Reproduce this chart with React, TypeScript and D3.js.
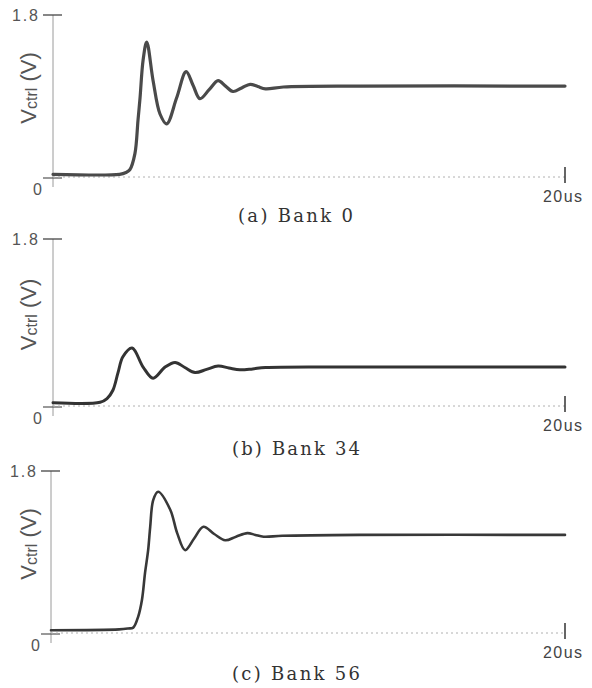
import React from "react";
import * as d3 from "d3";

// ---- data (time in µs, Vctrl in V) ----
const timeA = [0, 2.6, 2.85, 3.0, 3.2, 3.32, 3.4, 3.52, 3.66, 3.91, 4.18, 4.44, 4.83, 5.2, 5.47, 5.74, 6.1, 6.45, 6.74, 7.03, 7.37, 7.7, 8.0, 8.3, 9.0, 12, 20];
const vctrlA = [0.03, 0.03, 0.05, 0.08, 0.26, 0.63, 0.88, 1.3, 1.5, 1.07, 0.7, 0.59, 0.88, 1.17, 1.02, 0.87, 0.97, 1.07, 1.01, 0.95, 0.99, 1.03, 1.005, 0.98, 1.0, 1.01, 1.01];

const timeB = [0, 1.84, 2.11, 2.34, 2.54, 2.73, 3.09, 3.52, 3.91, 4.38, 4.77, 5.15, 5.55, 6.0, 6.45, 6.87, 7.3, 7.8, 8.3, 12, 20];
const vctrlB = [0.035, 0.04, 0.08, 0.17, 0.36, 0.53, 0.625, 0.42, 0.3, 0.42, 0.47, 0.415, 0.36, 0.395, 0.43, 0.41, 0.39, 0.4, 0.415, 0.42, 0.42];

const timeC = [0, 2.65, 3.0, 3.2, 3.39, 3.54, 3.66, 3.78, 3.86, 3.98, 4.17, 4.64, 4.91, 5.22, 5.57, 5.93, 6.35, 6.78, 7.2, 7.64, 7.95, 8.27, 9.0, 12, 20];
const vctrlC = [0.03, 0.04, 0.05, 0.06, 0.18, 0.37, 0.67, 0.92, 1.18, 1.48, 1.57, 1.37, 1.11, 0.92, 1.05, 1.18, 1.1, 1.03, 1.07, 1.11, 1.09, 1.07, 1.08, 1.09, 1.09];

const captions = ["(a)  Bank  0", "(b)  Bank  34", "(c)  Bank  56"];
const yTickTop = "1.8";
const yTickBottom = "0";
const xTickEnd = "20us";
const yDomain = [0, 1.8];
const xDomain = [0, 20];

type PanelProps = {
  time: number[];
  vctrl: number[];
  caption: string;
  x0: number;
  x1: number;
  yTop: number;
  yZero: number;
  capY: number;
  capX0: number;
  capW: number;
  strokeW: number;
  strokeC: string;
};

const SANS = "'Liberation Sans', Arial, sans-serif";
const SERIF = "'DejaVu Serif', 'Liberation Serif', serif";

function Panel(p: PanelProps) {
  const x = d3.scaleLinear().domain(xDomain).range([p.x0, p.x1]);
  const y = d3.scaleLinear().domain(yDomain).range([p.yZero, p.yTop]);
  const pts = p.time.map((t, i) => [t, p.vctrl[i]] as [number, number]);
  const line = d3
    .line<[number, number]>()
    .x((d) => x(d[0]))
    .y((d) => y(d[1]))
    .curve(d3.curveCatmullRom.alpha(0.5));
  const ax = x(0);
  const yz = y(0);
  const yt = y(1.8);
  const xe = x(20);
  const mid = (yz + yt) / 2 - 8;
  return (
    <g>
      {/* y axis */}
      <line x1={ax} x2={ax} y1={yt} y2={yz + 10} stroke="#9a9a9a" strokeWidth={1} />
      <line x1={ax - 10} x2={ax + 9} y1={yt} y2={yt} stroke="#444" strokeWidth={1.3} />
      <line x1={ax - 10} x2={ax + 9} y1={yz + 1} y2={yz + 1} stroke="#555" strokeWidth={1.2} />
      {/* x axis (faint dotted) */}
      <line x1={ax} x2={xe} y1={yz} y2={yz} stroke="#b0b0b0" strokeWidth={1} strokeDasharray="2,3" />
      <line x1={xe} x2={xe} y1={yz - 10} y2={yz + 6} stroke="#333" strokeWidth={1.5} />
      {/* tick labels */}
      <text x={ax - 15} y={yt + 6} textAnchor="end" fontFamily={SANS} fontSize={16} fill="#555" textLength={26} lengthAdjust="spacing">
        {yTickTop}
      </text>
      <text x={ax - 11} y={yz + 18} textAnchor="end" fontFamily={SANS} fontSize={16} fill="#555">
        {yTickBottom}
      </text>
      <text x={xe - 22} y={yz + 25} fontFamily={SANS} fontSize={16} fill="#444" textLength={39} lengthAdjust="spacing">
        {xTickEnd}
      </text>
      {/* y label */}
      <text
        transform={`translate(36,${mid}) rotate(-90)`}
        textAnchor="middle"
        fontFamily={SANS}
        fontSize={22}
        fill="#555"
      >
        V<tspan fontSize={16} dy={1}>ctrl</tspan>
        <tspan dy={-1}> (V)</tspan>
      </text>
      {/* trace */}
      <path d={line(pts) || ""} fill="none" stroke={p.strokeC} strokeWidth={p.strokeW} strokeLinejoin="round" strokeLinecap="round" />
      {/* caption */}
      <text x={p.capX0} y={p.capY} fontFamily={SERIF} fontSize={18} fill="#333" textLength={p.capW} lengthAdjust="spacing">
        {p.caption}
      </text>
    </g>
  );
}

export default function App() {
  return (
    <svg
      width={592}
      height={688}
      style={{ position: "absolute", left: 0, top: 0, background: "#fff" }}
    >
      <rect width={592} height={688} fill="#fff" />
      <Panel time={timeA} vctrl={vctrlA} caption={captions[0]} x0={53} x1={565} yTop={15} yZero={177} capY={222} capX0={238} capW={115} strokeW={3.2} strokeC="#4a4a4a" />
      <Panel time={timeB} vctrl={vctrlB} caption={captions[1]} x0={53} x1={565} yTop={239} yZero={406} capY={455} capX0={232} capW={128} strokeW={3} strokeC="#333" />
      <Panel time={timeC} vctrl={vctrlC} caption={captions[2]} x0={51} x1={565} yTop={471} yZero={633} capY={680} capX0={232} capW={128} strokeW={2.6} strokeC="#383838" />
    </svg>
  );
}
